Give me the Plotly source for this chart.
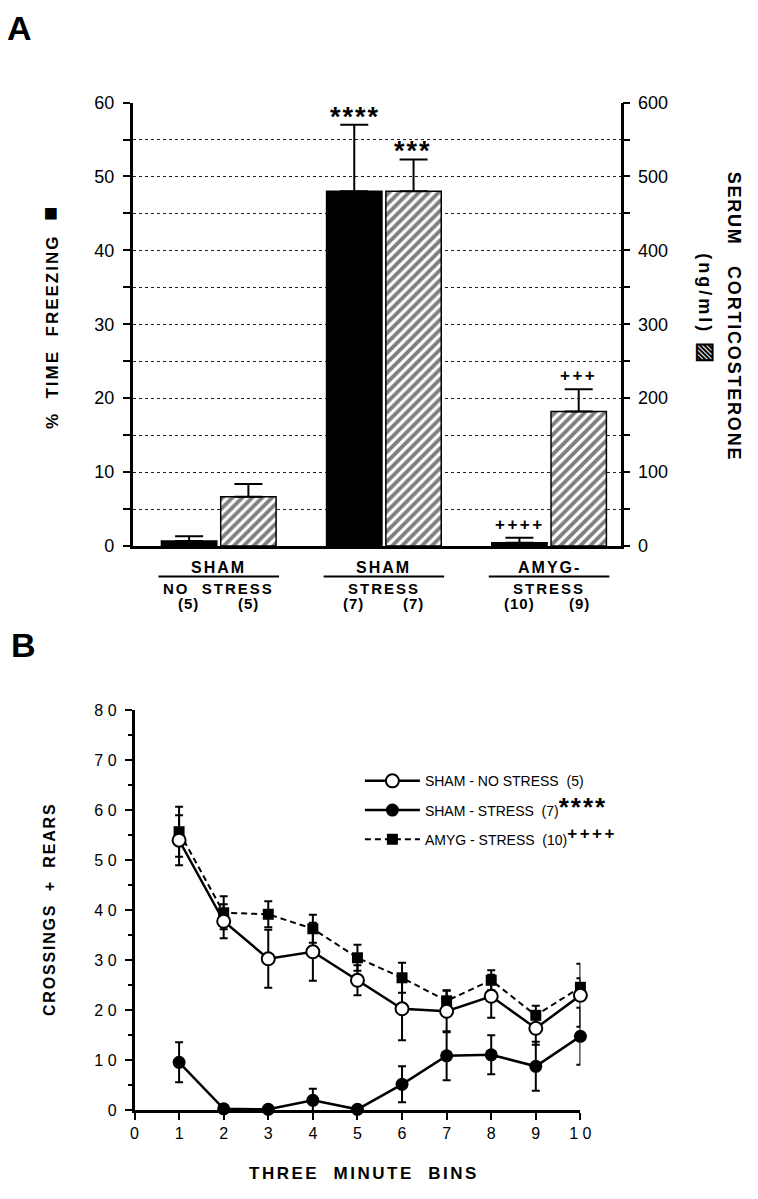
import plotly.graph_objects as go

# ---------------- Panel A data ----------------
groups = ["SHAM NO STRESS", "SHAM STRESS", "AMYG- STRESS"]
group_top = ["SHAM", "SHAM", "AMYG-"]
group_bottom = ["NO\u00a0\u00a0STRESS", "STRESS", "STRESS"]
n_freeze = ["(5)", "(7)", "(10)"]
n_cort = ["(5)", "(7)", "(9)"]
freezing = [0.67, 48.0, 0.45]
freezing_err = [0.65, 9.0, 0.65]
cort = [66.5, 480.0, 182.0]
cort_err = [17.5, 43.0, 30.0]
sig_freeze = ["", "****", "++++"]
sig_cort = ["", "***", "+++"]
freeze_ticks = [0, 10, 20, 30, 40, 50, 60]
cort_ticks = [0, 100, 200, 300, 400, 500, 600]

# ---------------- Panel B data ----------------
bins = [1, 2, 3, 4, 5, 6, 7, 8, 9, 10]
sham_ns = [54.0, 37.8, 30.3, 31.7, 26.0, 20.3, 19.8, 22.8, 16.4, 23.0]
sham_ns_err = [5.0, 3.4, 5.8, 5.8, 3.0, 6.3, 4.2, 4.3, 3.3, 6.3]
sham_s = [9.6, 0.3, 0.2, 2.0, 0.2, 5.2, 10.9, 11.1, 8.8, 14.8]
sham_s_err = [4.0, 0.0, 0.0, 2.3, 0.0, 3.6, 4.9, 3.9, 4.9, 5.7]
amyg = [55.7, 39.5, 39.2, 36.3, 30.5, 26.5, 21.9, 26.0, 19.0, 24.6]
amyg_err = [5.0, 3.3, 2.6, 2.8, 2.6, 3.0, 2.0, 2.0, 1.9, 1.8]
b_xticks = [0, 1, 2, 3, 4, 5, 6, 7, 8, 9, 10]
b_xticktext = ["0", "1", "2", "3", "4", "5", "6", "7", "8", "9", "1\u00a00"]
b_yticks = [0, 10, 20, 30, 40, 50, 60, 70, 80]
b_yticktext = ["0", "1\u00a00", "2\u00a00", "3\u00a00", "4\u00a00", "5\u00a00",
               "6\u00a00", "7\u00a00", "8\u00a00"]

FONT = "Liberation Sans, Arial, Helvetica, sans-serif"
# page body has an 8px margin; figure sized so page is 758x1199
OFF = 8
W, H = 758 - OFF, 1199 - OFF


def px(x):
    return (x - OFF) / W


def py(y):
    return 1 - (y - OFF) / H


def ls(text, sp):
    return f"<span style='letter-spacing:{sp}px'>{text}</span>"


fig = go.Figure()

# Panel A bars
fig.add_trace(go.Bar(
    x=groups, y=freezing, xaxis="x", yaxis="y", offsetgroup="f",
    marker=dict(color="black", line=dict(color="black", width=1.5)),
    error_y=dict(type="data", array=freezing_err, arrayminus=[0] * 3,
                 symmetric=False, color="black", thickness=2, width=14),
    showlegend=False, hoverinfo="skip",
))
fig.add_trace(go.Bar(
    x=groups, y=cort, xaxis="x", yaxis="y2", offsetgroup="c",
    marker=dict(color="white", line=dict(color="black", width=1.5),
                pattern=dict(shape="/", fgcolor="black", bgcolor="white",
                             size=7, solidity=0.55)),
    error_y=dict(type="data", array=cort_err, arrayminus=[0] * 3,
                 symmetric=False, color="black", thickness=2, width=14),
    showlegend=False, hoverinfo="skip",
))

STAR = "<span style='font-size:26px;letter-spacing:2px'><b>****</b></span>"
PLUS = "<sup><span style='font-size:17px;letter-spacing:2.5px'><b>++++</b></span></sup>"

# Panel B lines (drawing order: amyg, sham stress, sham no stress)
fig.add_trace(go.Scatter(
    x=bins, y=amyg, xaxis="x2", yaxis="y3", mode="lines+markers",
    name="AMYG - STRESS\u00a0\u00a0(10)" + PLUS, legendrank=3, legendgroup="c",
    line=dict(color="black", width=2, dash="6px,4px"),
    marker=dict(symbol="square", size=11, color="black"),
    error_y=dict(type="data", array=amyg_err, color="black", thickness=2, width=4),
    cliponaxis=False,
))
fig.add_trace(go.Scatter(
    x=bins, y=sham_s, xaxis="x2", yaxis="y3", mode="lines+markers",
    name="SHAM - STRESS\u00a0\u00a0(7)" + STAR, legendrank=2, legendgroup="b",
    line=dict(color="black", width=2.5),
    marker=dict(symbol="circle", size=13, color="black"),
    error_y=dict(type="data", array=sham_s_err, color="black", thickness=2, width=4),
    cliponaxis=False,
))
fig.add_trace(go.Scatter(
    x=bins, y=sham_ns, xaxis="x2", yaxis="y3", mode="lines+markers",
    name="SHAM - NO STRESS\u00a0\u00a0(5)", legendrank=1, legendgroup="a",
    line=dict(color="black", width=2.5),
    marker=dict(symbol="circle", size=13, color="white",
                line=dict(color="black", width=2)),
    error_y=dict(type="data", array=sham_ns_err, color="black", thickness=2, width=4),
    cliponaxis=False,
))

annotations = []
shapes = []


def sig_text(s):
    if "*" in s:
        return f"<span style='letter-spacing:2px'><b>{s}</b></span>", 27, -9
    return f"<span style='letter-spacing:2.5px'><b>{s}</b></span>", 17, 2


for i, g in enumerate(groups):
    if sig_freeze[i]:
        t, sz, ys = sig_text(sig_freeze[i])
        annotations.append(dict(
            x=g, y=freezing[i] + freezing_err[i], xref="x", yref="y",
            text=t, showarrow=False, xshift=-29, yanchor="bottom", yshift=ys,
            font=dict(family=FONT, size=sz, color="black")))
    if sig_cort[i]:
        t, sz, ys = sig_text(sig_cort[i])
        annotations.append(dict(
            x=g, y=cort[i] + cort_err[i], xref="x", yref="y2",
            text=t, showarrow=False, xshift=29, yanchor="bottom", yshift=ys,
            font=dict(family=FONT, size=sz, color="black")))
    # category labels
    annotations.append(dict(
        x=g, y=py(567), xref="x", yref="paper", text=f"<b>{ls(group_top[i], 2)}</b>",
        showarrow=False, yanchor="middle", font=dict(family=FONT, size=16, color="black")))
    annotations.append(dict(
        x=g, y=py(588), xref="x", yref="paper", text=f"<b>{ls(group_bottom[i], 2)}</b>",
        showarrow=False, yanchor="middle", font=dict(family=FONT, size=15, color="black")))
    annotations.append(dict(
        x=g, y=py(603), xref="x", yref="paper", text=f"<b>{ls(n_freeze[i], 1)}</b>",
        showarrow=False, yanchor="middle", xshift=-30, font=dict(family=FONT, size=15, color="black")))
    annotations.append(dict(
        x=g, y=py(603), xref="x", yref="paper", text=f"<b>{ls(n_cort[i], 1)}</b>",
        showarrow=False, yanchor="middle", xshift=30, font=dict(family=FONT, size=15, color="black")))
    shapes.append(dict(type="line", xref="x", yref="paper", x0=i - 0.365, x1=i + 0.365,
                       y0=py(576), y1=py(576), line=dict(color="black", width=2)))

# panel letters
annotations.append(dict(x=px(1), y=py(18), xref="paper", yref="paper", text="<b>A</b>",
                        showarrow=False, xanchor="left", yanchor="middle",
                        font=dict(family=FONT, size=34, color="black")))
annotations.append(dict(x=px(5), y=py(646), xref="paper", yref="paper", text="<b>B</b>",
                        showarrow=False, xanchor="left", yanchor="middle",
                        font=dict(family=FONT, size=34, color="black")))

# axis titles panel A
annotations.append(dict(x=px(47), y=py(313), xref="paper", yref="paper",
                        text="<b>" + ls("%\u00a0\u00a0TIME\u00a0\u00a0FREEZING\u00a0\u00a0", 2)
                        + "<span style='font-size:24px'>\u25A0</span></b>",
                        textangle=-90, showarrow=False, xanchor="center", yanchor="middle",
                        font=dict(family=FONT, size=17, color="black")))
annotations.append(dict(x=px(745), y=py(312), xref="paper", yref="paper",
                        text="<b>" + ls("SERUM\u00a0\u00a0\u00a0CORTICOSTERONE", 1.8) + "</b>",
                        textangle=90, showarrow=False, xanchor="center", yanchor="middle",
                        font=dict(family=FONT, size=18, color="black")))
annotations.append(dict(x=px(717), y=py(303), xref="paper", yref="paper",
                        text="<b>" + ls("(ng/ml)\u00a0", 3) + "<span style='font-size:22px'>\u25A8</span></b>",
                        textangle=90, showarrow=False, xanchor="center", yanchor="middle",
                        font=dict(family=FONT, size=18, color="black")))

# axis titles panel B
annotations.append(dict(x=px(47), y=py(915), xref="paper", yref="paper",
                        text="<b>" + ls("CROSSINGS\u00a0\u00a0+\u00a0\u00a0REARS", 1.8) + "</b>",
                        textangle=-90, showarrow=False, xanchor="center", yanchor="middle",
                        font=dict(family=FONT, size=16, color="black")))
annotations.append(dict(x=px(367), y=py(1183), xref="paper", yref="paper",
                        text="<b>" + ls("THREE\u00a0\u00a0MINUTE\u00a0\u00a0BINS", 2.5) + "</b>",
                        showarrow=False, xanchor="center", yanchor="middle",
                        font=dict(family=FONT, size=17, color="black")))

fig.update_layout(
    width=W, height=H, margin=dict(l=0, r=0, t=0, b=0),
    paper_bgcolor="white", plot_bgcolor="rgba(0,0,0,0)",
    barmode="group", bargap=0.282, bargroupgap=0.066,
    font=dict(family=FONT, color="black"),
    showlegend=True,
    legend=dict(x=px(363), y=py(768), xanchor="left", yanchor="top",
                bgcolor="rgba(0,0,0,0)", borderwidth=0, tracegroupgap=8,
                font=dict(family=FONT, size=14, color="black"), itemwidth=55),
    xaxis=dict(domain=[px(131), px(629)], anchor="y", type="category",
               range=[-0.522, 2.433], showline=True, linecolor="black", linewidth=2.5,
               ticks="", showticklabels=False, showgrid=False, zeroline=False,
               categoryorder="array", categoryarray=groups),
    yaxis=dict(domain=[py(545), py(94)], anchor="x", range=[0, 60],
               tickvals=freeze_ticks, ticks="outside", ticklen=7, tickwidth=2,
               tickcolor="black", showline=True, linecolor="black", linewidth=2.5,
               zeroline=False, tickfont=dict(family=FONT, size=18, color="black"),
               ticklabelstandoff=5,
               showgrid=True, gridcolor="#222", griddash="dot", gridwidth=1.3,
               minor=dict(dtick=5, tick0=0, ticks="outside", ticklen=7, tickwidth=2,
                          tickcolor="black", showgrid=True, gridcolor="#222",
                          griddash="dot", gridwidth=1.3)),
    yaxis2=dict(overlaying="y", side="right", anchor="x", range=[0, 600],
                tickvals=cort_ticks, ticks="outside", ticklen=7, tickwidth=2,
                tickcolor="black", showline=True, linecolor="black", linewidth=2.5,
                zeroline=False, showgrid=False, ticklabelstandoff=4,
                tickfont=dict(family=FONT, size=18, color="black"),
                minor=dict(dtick=50, tick0=0, ticks="outside", ticklen=7, tickwidth=2,
                           tickcolor="black", showgrid=False)),
    xaxis2=dict(domain=[px(133), px(588)], anchor="y3", range=[0, 10],
                tickvals=b_xticks, ticktext=b_xticktext, ticks="outside", ticklen=7,
                tickwidth=2, tickcolor="black", showline=True, linecolor="black",
                linewidth=2.5, zeroline=False, showgrid=False,
                tickfont=dict(family=FONT, size=16, color="black")),
    yaxis3=dict(domain=[py(1119), py(712)], anchor="x2", range=[0, 80],
                tickvals=b_yticks, ticktext=b_yticktext, ticks="outside", ticklen=7,
                tickwidth=2, tickcolor="black", showline=True, linecolor="black",
                linewidth=2.5, zeroline=False, showgrid=False, ticklabelstandoff=5,
                tickfont=dict(family=FONT, size=16, color="black"),
                minor=dict(dtick=5, tick0=0, ticks="outside", ticklen=4, tickwidth=2,
                           tickcolor="black", showgrid=False)),
    annotations=annotations,
    shapes=shapes,
)

fig.write_html("out.html")
